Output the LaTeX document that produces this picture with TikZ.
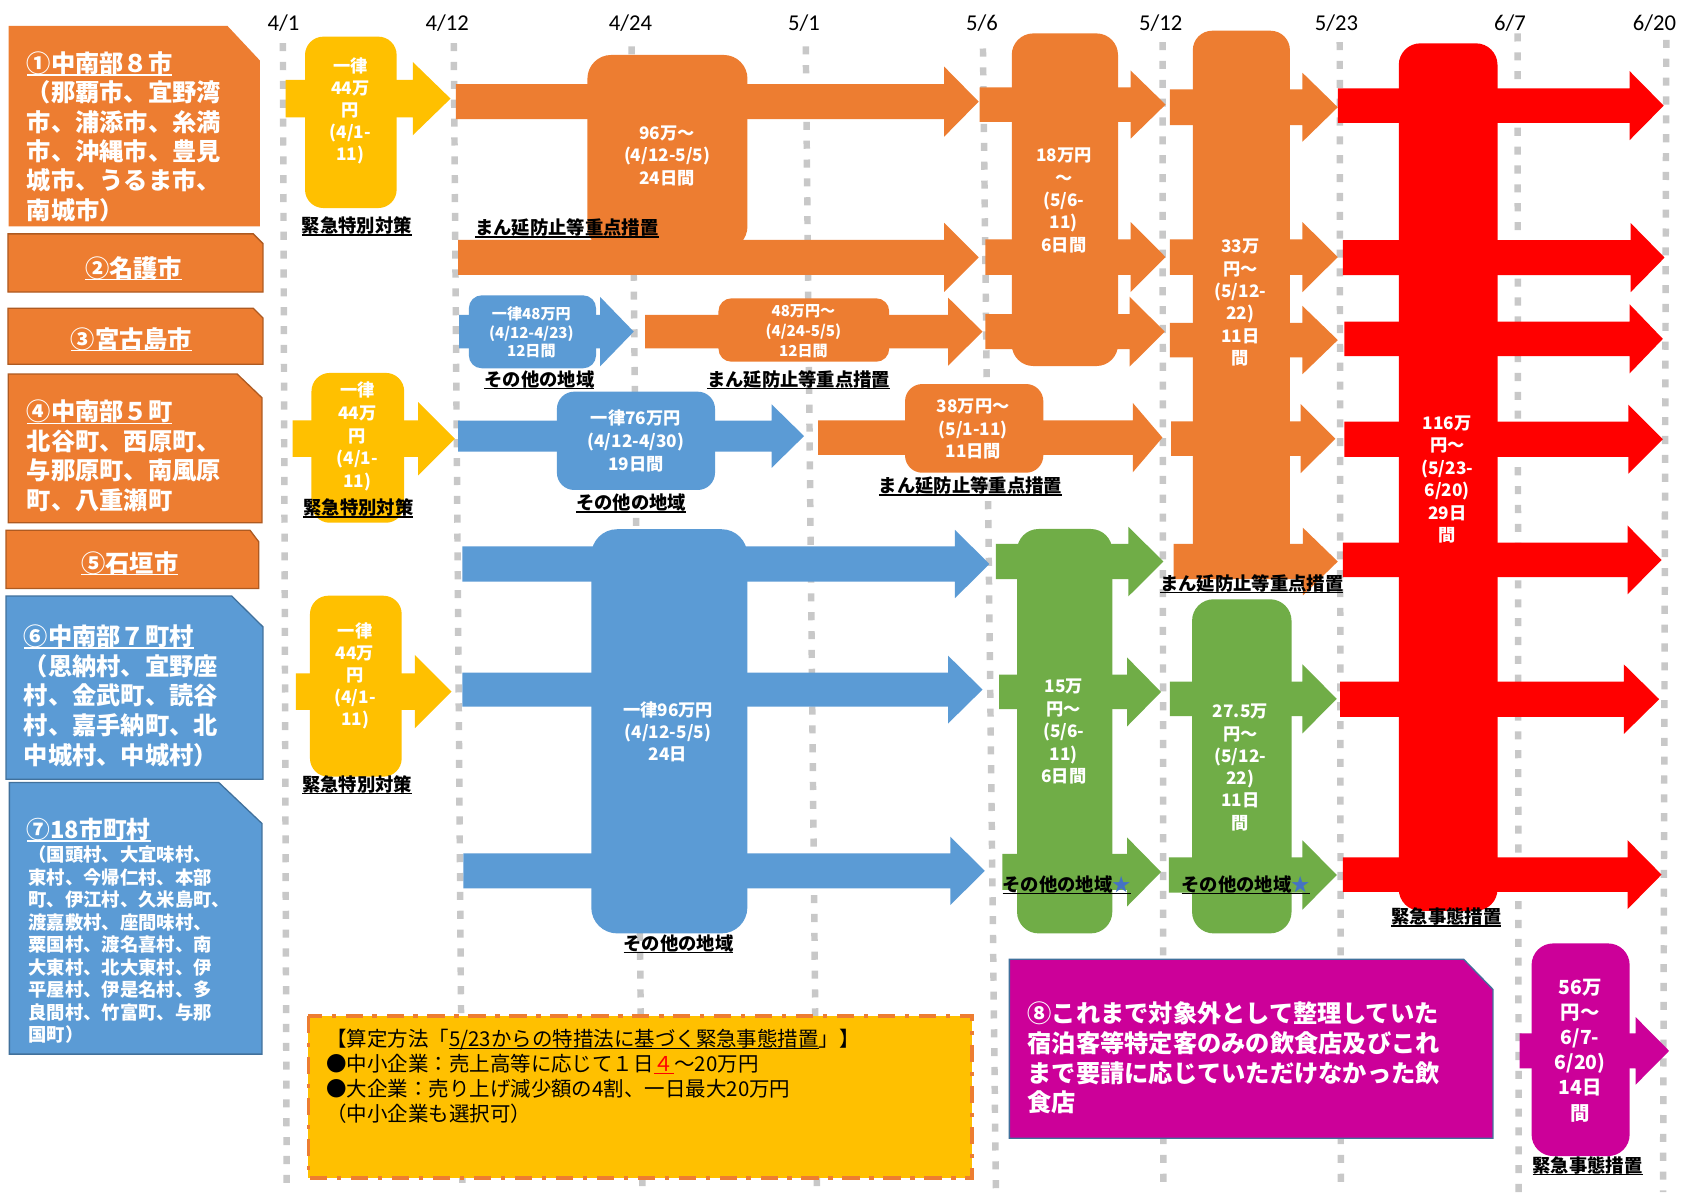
\documentclass[tikz,border=0pt]{standalone}
\usepackage{fontspec}
\setmainfont{Noto Sans CJK JP}
\newfontfamily\datefont{Carlito}
\definecolor{orC}{HTML}{ED7D31}
\definecolor{orB}{HTML}{AE5A21}
\definecolor{yeC}{HTML}{FFC000}
\definecolor{blC}{HTML}{5B9BD5}
\definecolor{blB}{HTML}{41719C}
\definecolor{grC}{HTML}{70AD47}
\definecolor{rdC}{HTML}{FF0000}
\definecolor{mgC}{HTML}{CC0099}
\definecolor{gridC}{HTML}{C8C8C8}
\definecolor{starC}{HTML}{4472C4}
\newcommand\myul[1]{\setbox0=\hbox{#1}\leavevmode\rlap{\copy0}\rule[-2.8pt]{\wd0}{1.2pt}}
\newcommand\blockarr[7]{\fill[#1] (#2,{#5-#6}) -- (#3,{#5-#6}) -- (#3,{#5-#7}) -- (#4,#5) -- (#3,{#5+#7}) -- (#3,{#5+#6}) -- (#2,{#5+#6}) -- cycle;}
\tikzset{
  gridline/.style={gridC, line width=6pt, dash pattern=on 7.5pt off 10pt},
  datelbl/.style={font=\datefont\fontsize{21}{21}\selectfont, inner sep=0pt},
  wt/.style 2 args={text=white, font=\bfseries\fontsize{#1}{#2}\selectfont, align=center, inner sep=0pt},
  boxtxt/.style 2 args={text=white, font=\bfseries\fontsize{#1}{#2}\selectfont, align=left, inner sep=0pt, anchor=west},
  lbl/.style={text=black, font=\bfseries\fontsize{17}{20}\selectfont, inner sep=0pt},
  orbox/.style={fill=orC, draw=orB, line width=1.2pt},
  blbox/.style={fill=blC, draw=blB, line width=1.2pt},
}
\begin{document}
\begin{tikzpicture}[x=1pt, y=-1pt]
\useasboundingbox (0,0) rectangle (1568,1106);
\fill[white] (0,0) rectangle (1568,1106);
% grid lines
\foreach \xa/\xb/\ya in {262.5/266/40, 421/429/40, 586/596/43, 747.6/758/43, 912/924/45, 1078.6/1079.4/39, 1243/1244/39, 1408/1409/31, 1546/1543/37}
  \draw[gridline] (\xa,\ya) -- (\xb,1106);
% dates
\node[datelbl] (d1) at (263,21.6) {4/1};
\node[datelbl] (d2) at (415,21.6) {4/12};
\node[datelbl] (d3) at (585,21.6) {4/24};
\node[datelbl] (d4) at (746,21.6) {5/1};
\node[datelbl] (d5) at (911,21.6) {5/6};
\node[datelbl] (d6) at (1077,21.6) {5/12};
\node[datelbl] (d7) at (1240,21.6) {5/23};
\node[datelbl] (d8) at (1401,21.6) {6/7};
\node[datelbl] (d9) at (1535,21.6) {6/20};
% left boxes
\fill[orC] (8,24) -- (211,24) -- (241,56) -- (241,210) -- (8,210) -- cycle;
\draw[orbox] (7.4,217) -- (235,217) -- (244,226) -- (244,271) -- (7.4,271) -- cycle;
\draw[orbox] (7.4,286) -- (235,286) -- (244,295) -- (244,338) -- (7.4,338) -- cycle;
\draw[orbox] (7.7,347) -- (220,347) -- (243,369) -- (243,485) -- (7.7,485) -- cycle;
\draw[orbox] (5.6,492) -- (232,492) -- (240,502.6) -- (240,546) -- (5.6,546) -- cycle;
\draw[blbox] (5.6,553) -- (215,553) -- (244,581.6) -- (244,723) -- (5.6,723) -- cycle;
\draw[blbox] (8.7,726) -- (203,726) -- (243,764) -- (243,978) -- (8.7,978) -- cycle;
\draw[fill=mgC, draw=blB, line width=1.2pt] (936.5,890) -- (1358,890) -- (1385.2,918) -- (1385.2,1056) -- (936.5,1056) -- cycle;
% note box
\draw[fill=yeC, draw=orC, line width=3.5pt, dash pattern=on 16pt off 9pt on 4pt off 9pt] (286.2,942.7) rectangle (901.8,1093.3);
% yellow
\fill[yeC, rounded corners=17] (283,34) rectangle (368,193);
\blockarr{yeC}{265}{383}{418}{91.5}{17.5}{34}
\fill[yeC, rounded corners=17] (289,346) rectangle (375,485);
\blockarr{yeC}{271.5}{388}{422}{407}{17}{34}
\fill[yeC, rounded corners=17] (287.6,552.7) rectangle (372.7,720.6);
\blockarr{yeC}{274.6}{385}{419}{641.7}{17}{34}
% orange big (4/12-5/5)
\fill[orC, rounded corners=22] (545,51) rectangle (693.5,232);
\blockarr{orC}{423}{876}{908}{94.3}{16.2}{32.5}
\blockarr{orC}{425}{876}{908}{238.8}{16.2}{32}
% row 3
\fill[blC, rounded corners=12] (435,274) rectangle (553,341.7);
\blockarr{blC}{426}{556.7}{588}{307.7}{15.5}{32.3}
\fill[orC, rounded corners=12] (666.6,276.8) rectangle (825,335.6);
\blockarr{orC}{598.5}{879.6}{911.6}{307.7}{15.5}{31.6}
% row 4
\fill[blC, rounded corners=16] (516.7,363.4) rectangle (663.4,454.6);
\blockarr{blC}{425}{716}{746}{404.6}{14.4}{29.4}
\fill[orC, rounded corners=16] (839.7,356.3) rectangle (968,438.6);
\blockarr{orC}{759}{1051}{1078.5}{406}{16}{32.2}
% big blue
\fill[blC, rounded corners=24] (548.6,491) rectangle (693.4,866);
\blockarr{blC}{429}{886}{918}{523.3}{16.3}{31.7}
\blockarr{blC}{429}{879.6}{911.6}{639.8}{15.8}{31.5}
\blockarr{blC}{430}{881.7}{913.7}{808}{16.2}{31.7}
% 18man orange
\fill[orC, rounded corners=20] (938.7,31) rectangle (1037.3,339.6);
\blockarr{orC}{909}{1049}{1081.4}{97}{16}{31.6}
\blockarr{orC}{914.3}{1049}{1081.4}{238.5}{16.5}{32.5}
\blockarr{orC}{914.3}{1048}{1080.6}{307.7}{16.3}{32.5}
% 33man orange
\fill[orC, rounded corners=18] (1106.7,28.5) rectangle (1196.8,537);
\blockarr{orC}{1085.5}{1208.4}{1241.2}{99.5}{16.5}{32}
\blockarr{orC}{1085.5}{1208.4}{1241.2}{238.5}{16.5}{32.5}
\blockarr{orC}{1085.5}{1208.4}{1241.2}{315.5}{16}{31.7}
\blockarr{orC}{1086.5}{1206.8}{1239}{407}{16}{32}
\blockarr{orC}{1089}{1208.8}{1241.2}{521}{16.4}{31.4}
% green
\fill[grC, rounded corners=20] (943.6,490.8) rectangle (1032,866);
\blockarr{grC}{924}{1047}{1079.4}{521}{16.3}{32.2}
\blockarr{grC}{927}{1045.7}{1077.2}{642}{16}{32}
\blockarr{grC}{930}{1045.7}{1077.2}{809}{16.7}{32}
\fill[grC, rounded corners=20] (1106,556) rectangle (1198.3,866);
\blockarr{grC}{1085.5}{1208.4}{1240.3}{648.4}{16}{32}
\blockarr{grC}{1084.5}{1208.4}{1240.3}{811.8}{16.4}{32.2}
% red
\fill[rdC, rounded corners=20] (1297.8,40.2) rectangle (1389.4,845);
\blockarr{rdC}{1241.2}{1512}{1543.6}{98}{16}{32}
\blockarr{rdC}{1246}{1513}{1544.4}{239}{16.2}{32}
\blockarr{rdC}{1247.4}{1512}{1542.8}{314.4}{16}{32}
\blockarr{rdC}{1247.4}{1510.8}{1542.8}{407.5}{16.3}{32}
\blockarr{rdC}{1246}{1510}{1541.6}{519.5}{16}{32}
\blockarr{rdC}{1243.3}{1506.7}{1539.4}{648.7}{16.3}{32.2}
\blockarr{rdC}{1246}{1510}{1541.6}{811.5}{16}{32}
% magenta
\fill[mgC, rounded corners=20] (1421,875.3) rectangle (1512,1072.6);
\blockarr{mgC}{1410}{1517.5}{1548.6}{975}{16.2}{31.4}
% left box texts
\node[boxtxt={22.5}{27.2}] (t1) at (24.7,126.9) {\myul{①中南部８市}\\（那覇市、宜野湾\\市、浦添市、糸満\\市、沖縄市、豊見\\城市、うるま市、\\南城市）};
\node[boxtxt={22.5}{27}, anchor=center] (t2) at (124,249) {\myul{②名護市}};
\node[boxtxt={22.5}{27}, anchor=center] (t3) at (122,315) {\myul{③宮古島市}};
\node[boxtxt={22.5}{27.3}] (t4) at (24.7,423) {\myul{④中南部５町}\\北谷町、西原町、\\与那原町、南風原\\町、八重瀬町};
\node[boxtxt={22.5}{27}, anchor=center] (t5) at (120.6,522.7) {\myul{⑤石垣市}};
\node[boxtxt={22.5}{27.5}] (t6) at (22,645.6) {\myul{⑥中南部７町村}\\（恩納村、宜野座\\村、金武町、読谷\\村、嘉手納町、北\\中城村、中城村）};
\node[boxtxt={22}{27}] (t7) at (24.7,770) {\myul{⑦18市町村}};
\node[boxtxt={17}{20.9}] (t7b) at (26.3,876.5) {（国頭村、大宜味村、\\東村、今帰仁村、本部\\町、伊江村、久米島町、\\渡嘉敷村、座間味村、\\粟国村、渡名喜村、南\\大東村、北大東村、伊\\平屋村、伊是名村、多\\良間村、竹富町、与那\\国町）};
\node[boxtxt={22.5}{27.6}] (t8) at (953.3,981.6) {⑧これまで対象外として整理していた\\宿泊客等特定客のみの飲食店及びこれ\\まで要請に応じていただけなかった飲\\食店};
% note text
\node[anchor=west, align=left, inner sep=0pt, font=\fontsize{19}{23.4}\selectfont] (note) at (302.5,998.5) {【算定方法「\myul{5/23からの特措法に基づく緊急事態措置}」】\\●中小企業：売上高等に応じて１日{\color{rdC}\myul{４}}～20万円\\●大企業：売り上げ減少額の4割、一日最大20万円\\（中小企業も選択可）};
% arrow texts
\node[wt={16}{20.5}] (y1t) at (325,103) {一律\\44万\\円\\(4/1-\\11)};
\node[wt={16}{21}] (y2t) at (331.6,405) {一律\\44万\\円\\(4/1-\\11)};
\node[wt={16}{20.5}] (y3t) at (329.4,627) {一律\\44万\\円\\(4/1-\\11)};
\node[wt={16}{20.9}] (o1t) at (619,144.6) {96万～\\(4/12-5/5)\\24日間};
\node[wt={14}{17.5}] (b3t) at (493,308.3) {一律48万円\\(4/12-4/23)\\12日間};
\node[wt={14}{18.3}] (o3t) at (745.4,307.4) {48万円～\\(4/24-5/5)\\12日間};
\node[wt={16}{21.2}] (b4t) at (590,409.3) {一律76万円\\(4/12-4/30)\\19日間};
\node[wt={16}{21}] (o4t) at (903,398) {38万円～\\(5/1-11)\\11日間};
\node[wt={16}{20.4}] (b5t) at (619.8,679.2) {一律96万円\\(4/12-5/5)\\24日};
\node[wt={16}{20.65}] (o5t) at (987,186) {18万円\\～\\(5/6-\\11)\\6日間};
\node[wt={16}{20.7}] (o6t) at (1150.8,280.7) {33万\\円～\\(5/12-\\22)\\11日\\間};
\node[wt={16}{20.9}] (g1t) at (987,678.8) {15万\\円～\\(5/6-\\11)\\6日間};
\node[wt={16}{20.7}] (g2t) at (1150.8,712.1) {27.5万\\円～\\(5/12-\\22)\\11日\\間};
\node[wt={16}{20.9}] (r1t) at (1342.8,445) {116万\\円～\\(5/23-\\6/20)\\29日\\間};
\node[wt={18}{23.4}] (m1t) at (1466,974.5) {56万\\円～\\6/7-\\6/20)\\14日\\間};
% labels
\node[lbl] (l1) at (331,210) {\myul{緊急特別対策}};
\node[lbl] (l2) at (332.5,471.6) {\myul{緊急特別対策}};
\node[lbl] (l3) at (331.5,728.3) {\myul{緊急特別対策}};
\node[lbl] (l4) at (526,211.8) {\myul{まん延防止等重点措置}};
\node[lbl] (l5) at (500.5,352.6) {\myul{その他の地域}};
\node[lbl] (l6) at (741,352.6) {\myul{まん延防止等重点措置}};
\node[lbl] (l7) at (585.5,467) {\myul{その他の地域}};
\node[lbl] (l8) at (900.5,451) {\myul{まん延防止等重点措置}};
\node[lbl] (l9) at (1161.4,541.8) {\myul{まん延防止等重点措置}};
\node[lbl] (l10) at (629.5,875.9) {\myul{その他の地域}};
\node[lbl, anchor=west] (l11) at (930,821) {\myul{その他の地域{\color{starC}★}}};
\node[lbl, anchor=west] (l12) at (1096,821) {\myul{その他の地域{\color{starC}★}}};
\node[lbl] (l13) at (1342,851) {\myul{緊急事態措置}};
\node[lbl] (l14) at (1473,1081.8) {\myul{緊急事態措置}};
\end{tikzpicture}
\end{document}
